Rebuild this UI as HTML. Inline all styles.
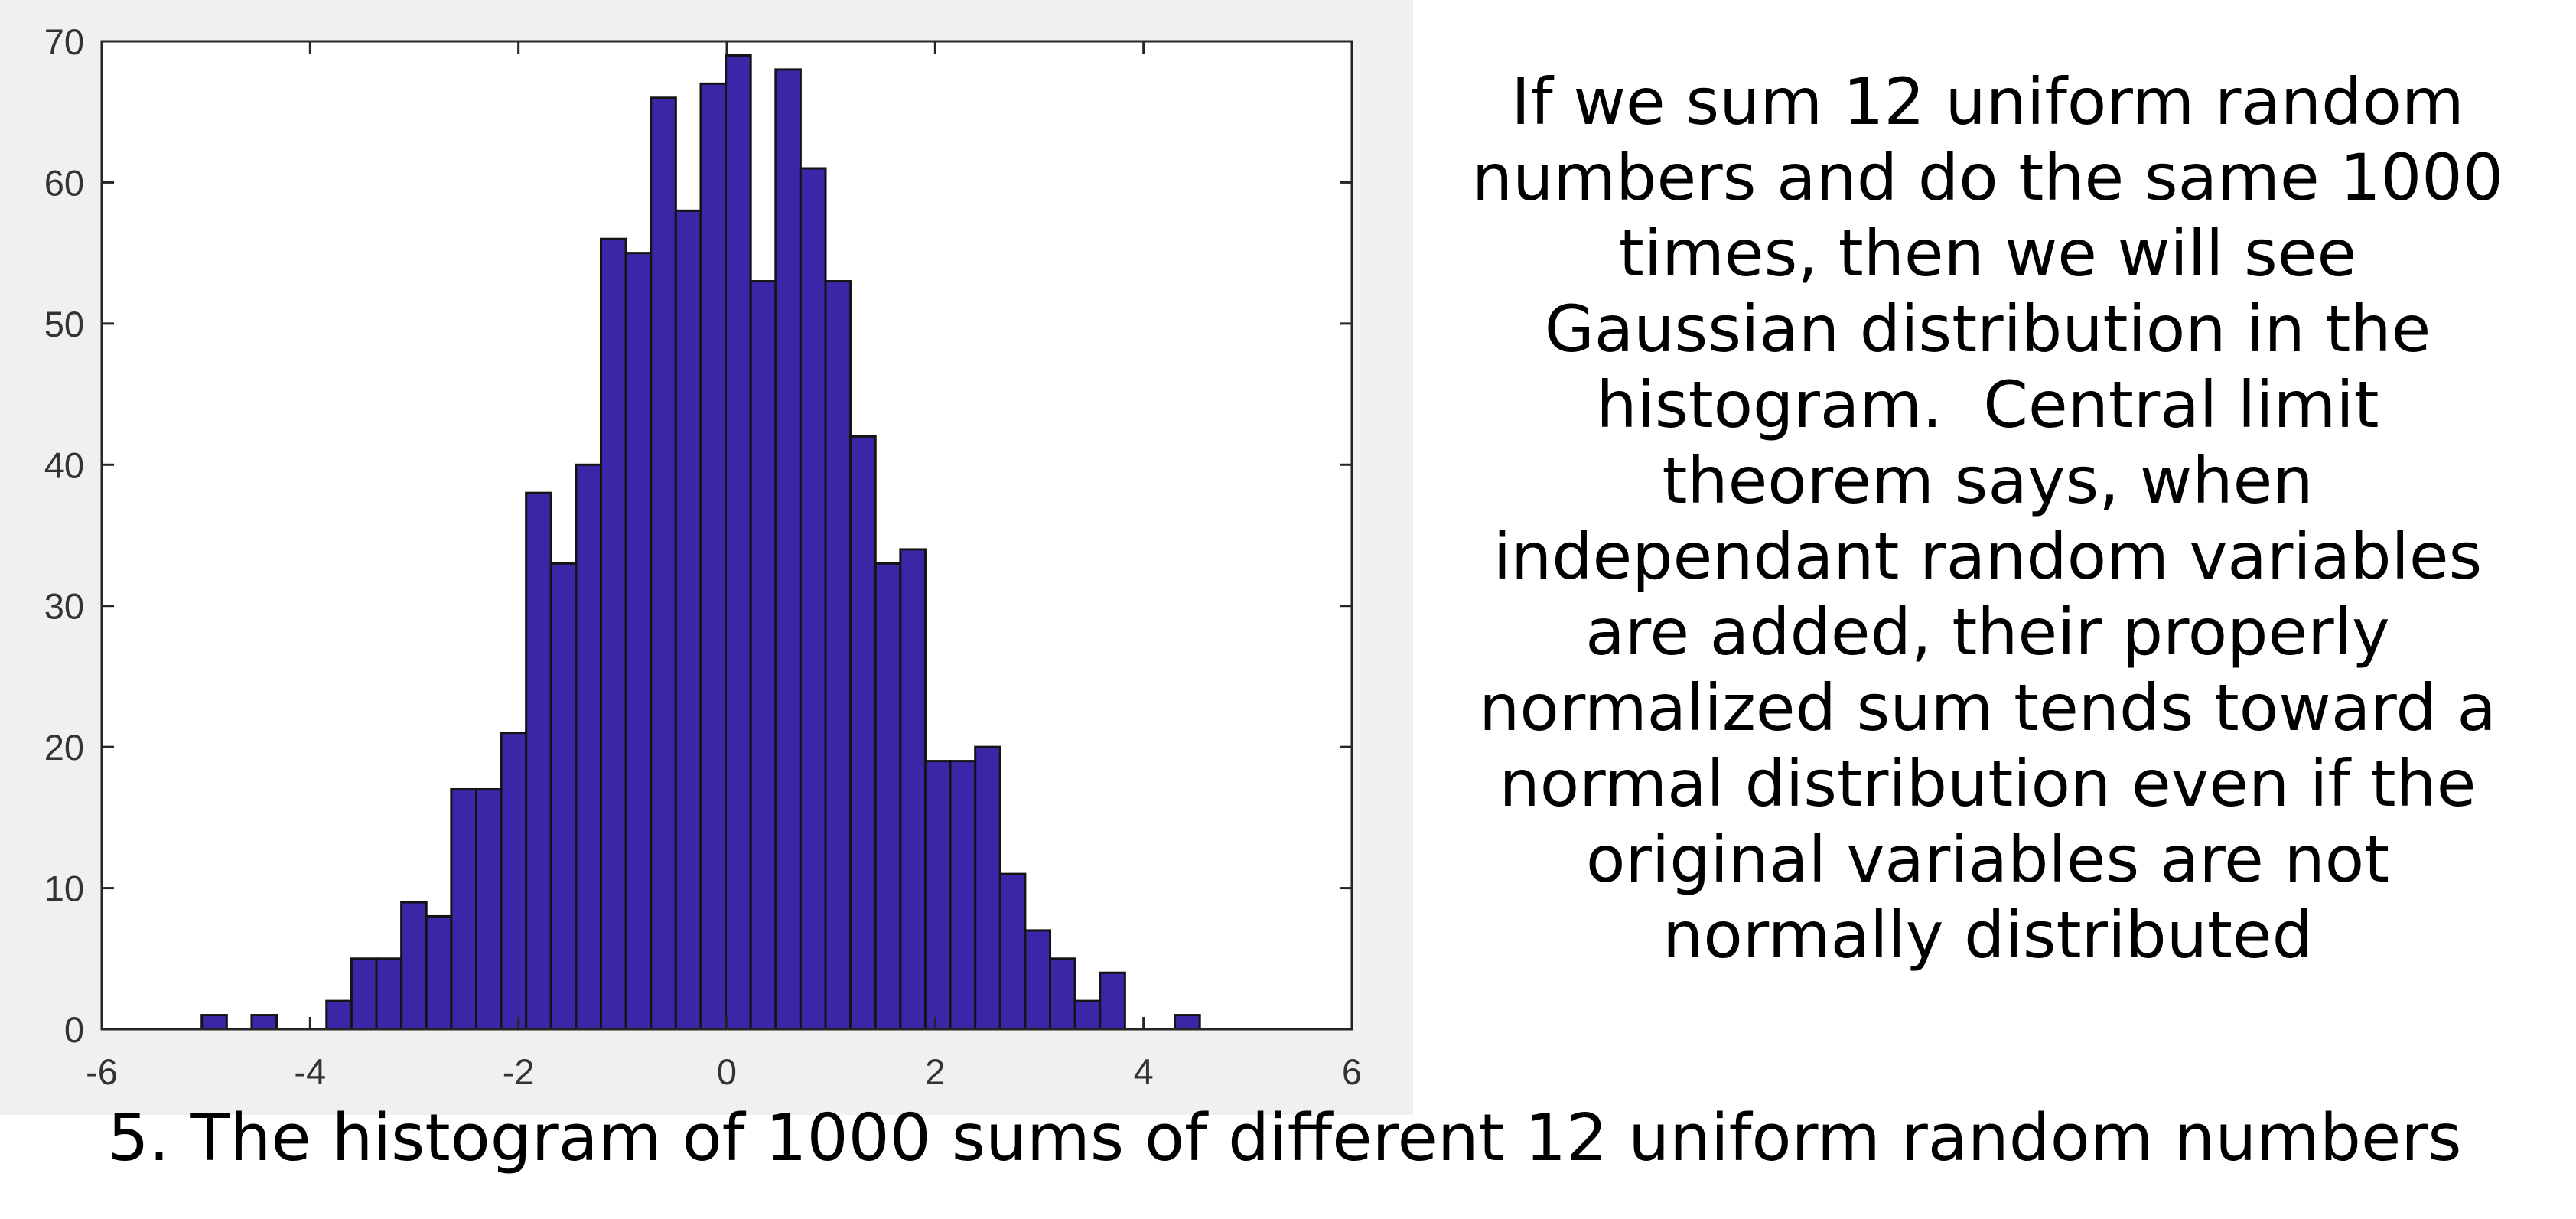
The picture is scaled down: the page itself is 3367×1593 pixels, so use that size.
<!DOCTYPE html>
<html><head><meta charset="utf-8"><style>
html,body{margin:0;padding:0;background:#fff;width:3367px;height:1593px;overflow:hidden}
svg{display:block}
</style></head><body>
<svg id="chart" width="3367" height="1593" viewBox="0 0 3367 1593" xmlns="http://www.w3.org/2000/svg">
<rect x="0" y="0" width="1847" height="1457" fill="#f0f0f0"/>
<rect x="133" y="54" width="1634" height="1291" fill="#fff"/>
<g id="bars"></g>
<g id="ticks"></g>
<rect x="133" y="54" width="1634" height="1291" fill="none" stroke="#262626" stroke-width="3"/>
<g font-family="'DejaVu Sans', sans-serif" font-size="84" text-anchor="middle" fill="#000">
<text x="2598" y="162">If we sum 12 uniform random</text>
<text x="2598" y="261">numbers and do the same 1000</text>
<text x="2598" y="360">times, then we will see</text>
<text x="2598" y="459">Gaussian distribution in the</text>
<text x="2598" y="558" xml:space="preserve">histogram.  Central limit</text>
<text x="2598" y="657">theorem says, when</text>
<text x="2598" y="756">independant random variables</text>
<text x="2598" y="855">are added, their properly</text>
<text x="2598" y="954">normalized sum tends toward a</text>
<text x="2598" y="1053">normal distribution even if the</text>
<text x="2598" y="1152">original variables are not</text>
<text x="2598" y="1251">normally distributed</text>
</g>
<text x="1679" y="1516" text-anchor="middle" font-family="'DejaVu Sans', sans-serif" font-size="85" fill="#000">5. The histogram of 1000 sums of different 12 uniform random numbers</text>
</svg>
<script>
const counts = [1,0,1,0,0,2,5,5,9,8,17,17,21,38,33,40,56,55,66,58,67,69,53,68,61,53,42,33,34,19,19,20,11,7,5,2,4,0,0,1];
const binStart = -5.04;
const binWidth = 0.2395;
const xTicks = [-6,-4,-2,0,2,4,6];
const yTicks = [0,10,20,30,40,50,60,70];
const X0=133, X1=1767, Y0=1345, Y1=54;
const xs = v => X0 + (v - (-6)) / 12 * (X1 - X0);
const ys = v => Y0 - v / 70 * (Y0 - Y1);
const NS = 'http://www.w3.org/2000/svg';
const bars = document.getElementById('bars');
counts.forEach((c, i) => {
  const r = document.createElementNS(NS, 'rect');
  const xa = xs(binStart + i * binWidth), xb = xs(binStart + (i + 1) * binWidth);
  r.setAttribute('x', xa); r.setAttribute('width', xb - xa);
  r.setAttribute('y', ys(c)); r.setAttribute('height', Y0 - ys(c));
  r.setAttribute('fill', '#3c25a6'); r.setAttribute('stroke', '#141414'); r.setAttribute('stroke-width', '3');
  
  
  bars.appendChild(r);
});
const tg = document.getElementById('ticks');
function line(x1,y1,x2,y2){const l=document.createElementNS(NS,'line');l.setAttribute('x1',x1);l.setAttribute('y1',y1);l.setAttribute('x2',x2);l.setAttribute('y2',y2);l.setAttribute('stroke','#262626');l.setAttribute('stroke-width','3');


tg.appendChild(l);}
function label(x,y,t,anchor){const e=document.createElementNS(NS,'text');e.setAttribute('x',x);e.setAttribute('y',y);e.setAttribute('text-anchor',anchor);e.setAttribute('font-family','"Liberation Sans", sans-serif');e.setAttribute('font-size','47');e.setAttribute('fill','#333333');e.textContent=t;


tg.appendChild(e);}
xTicks.forEach(v => { const x = xs(v); line(x,Y0,x,Y0-16); line(x,Y1,x,Y1+16); label(x,1417,String(v),'middle'); });
yTicks.forEach(v => { const y = ys(v); line(X0,y,X0+16,y); line(X1,y,X1-16,y); label(110,y+17,String(v),'end'); });
</script>
</body></html>
